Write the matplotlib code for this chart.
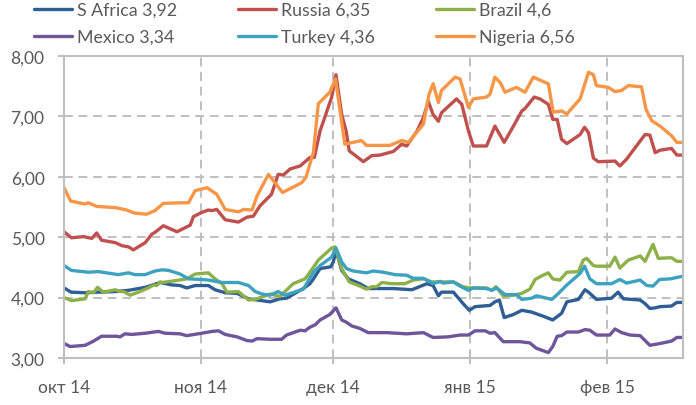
import matplotlib
matplotlib.use('Agg')
import matplotlib.pyplot as plt
import numpy as np
import pandas as pd

plt.rcParams['font.family'] = ['Lato', 'DejaVu Sans']

# ---- data (days since 2014-10-01, values) ----
start_date = '2014-10-01'

safrica_days = [0, 1.6, 4.8, 7.8, 11.6, 14.6, 18.4, 21.8, 24.4, 26.3,
                27.8, 29.7, 32.7, 34.2, 36.5, 39.2, 41.8, 46.7, 48.9, 50.4,
                54.2, 55.7, 56.5, 58.0, 60.4, 61.0, 61.6, 62.9, 64.4, 67.0,
                68.9, 74.6, 78.8, 82.2, 83.6, 84.8, 85.5, 88.2, 90.4, 91.8,
                93.1, 96.5, 97.6, 98.6, 99.7, 101.8, 103.7, 105.9, 108.6, 110.7,
                112.7, 113.9, 116.5, 118.0, 118.8, 120.6, 124.0, 125.5, 126.7, 130.5,
                131.6, 132.7, 133.9, 135.0, 137.6, 138.8, 139.9]
safrica = [4.16, 4.09, 4.08, 4.09, 4.10, 4.12, 4.17, 4.25, 4.21, 4.20,
           4.16, 4.20, 4.20, 4.13, 4.08, 4.07, 3.98, 3.93, 3.98, 3.99,
           4.15, 4.23, 4.31, 4.48, 4.51, 4.59, 4.78, 4.45, 4.31, 4.23,
           4.15, 4.15, 4.13, 4.23, 4.20, 4.03, 4.09, 4.09, 3.90, 3.79,
           3.85, 3.87, 3.93, 3.96, 3.67, 3.72, 3.79, 3.76, 3.69, 3.63,
           3.74, 3.93, 3.97, 4.13, 4.09, 3.97, 3.99, 4.09, 3.98, 3.96,
           3.90, 3.82, 3.83, 3.85, 3.86, 3.92, 3.92]

russia_days = [0, 1.7, 4.4, 6.3, 7.4, 8.5, 11.6, 13.1, 14.6, 15.7,
               18.4, 19.9, 20.6, 22.5, 25.6, 28.6, 29.3, 31.2, 32.7, 33.5,
               34.6, 36.5, 39.5, 41.4, 42.9, 44.4, 47.0, 48.5, 49.7, 51.2,
               53.5, 55.7, 56.7, 58.0, 60.6, 61.6, 62.9, 63.9, 64.6, 67.8,
               69.7, 71.6, 74.6, 76.5, 77.6, 79.9, 81.4, 82.5, 83.6, 84.8,
               85.5, 88.9, 90.1, 91.6, 92.7, 95.7, 97.6, 99.7, 101.8, 103.7,
               104.4, 106.5, 107.8, 109.7, 110.7, 111.7, 112.7, 113.9, 116.9, 117.9,
               118.8, 119.9, 121.0, 124.8, 125.9, 127.4, 131.6, 132.7, 133.9, 135.0,
               137.6, 138.8, 139.9]
russia = [5.09, 4.99, 5.01, 4.98, 5.07, 4.95, 4.91, 4.86, 4.84, 4.79,
          4.91, 5.05, 5.08, 5.19, 5.09, 5.20, 5.34, 5.41, 5.45, 5.44,
          5.46, 5.29, 5.25, 5.33, 5.35, 5.52, 5.71, 6.04, 6.03, 6.13,
          6.18, 6.32, 6.32, 6.76, 7.31, 7.69, 7.03, 6.76, 6.43, 6.25,
          6.35, 6.36, 6.42, 6.54, 6.51, 6.75, 6.98, 7.25, 7.03, 6.92,
          7.06, 7.29, 7.20, 6.76, 6.51, 6.51, 6.84, 6.57, 6.84, 7.09,
          7.13, 7.32, 7.29, 7.20, 6.95, 6.95, 6.62, 6.55, 6.70, 6.82,
          6.73, 6.31, 6.25, 6.26, 6.18, 6.29, 6.70, 6.69, 6.40, 6.44,
          6.47, 6.36, 6.36]

brazil_days = [0, 1.7, 4.8, 5.5, 6.7, 7.6, 8.9, 11.6, 12.7, 13.5,
               15.0, 17.2, 19.1, 20.3, 21.0, 21.8, 22.2, 25.2, 27.8, 29.7,
               31.2, 32.7, 34.2, 35.8, 36.9, 39.5, 41.8, 43.3, 45.2, 46.7,
               48.9, 51.9, 54.6, 55.7, 57.6, 60.6, 61.4, 62.9, 64.6, 66.7,
               68.5, 69.7, 70.8, 72.0, 74.2, 77.2, 79.1, 81.4, 83.3, 85.5,
               88.2, 90.4, 92.0, 95.7, 96.9, 97.8, 99.5, 101.8, 103.7, 105.5,
               106.7, 108.2, 109.7, 110.7, 112.3, 113.9, 116.5, 117.6, 118.4, 119.9,
               120.6, 123.6, 124.8, 125.9, 127.8, 130.5, 131.6, 133.4, 134.6, 137.6,
               138.8, 139.9]
brazil = [4.00, 3.95, 3.98, 4.10, 4.08, 4.17, 4.09, 4.13, 4.10, 4.10,
          4.04, 4.10, 4.16, 4.21, 4.20, 4.26, 4.25, 4.28, 4.31, 4.39,
          4.40, 4.41, 4.31, 4.23, 4.09, 4.10, 3.96, 3.97, 4.02, 4.06,
          4.02, 4.23, 4.31, 4.42, 4.62, 4.82, 4.84, 4.48, 4.26, 4.20,
          4.14, 4.18, 4.18, 4.25, 4.23, 4.23, 4.29, 4.31, 4.26, 4.26,
          4.26, 4.18, 4.16, 4.16, 4.12, 4.18, 4.03, 4.04, 4.07, 4.14,
          4.30, 4.36, 4.41, 4.31, 4.29, 4.42, 4.43, 4.62, 4.65, 4.53,
          4.52, 4.52, 4.67, 4.49, 4.62, 4.69, 4.60, 4.88, 4.65, 4.66,
          4.60, 4.60]

mexico_days = [0, 1.4, 4.8, 6.7, 8.5, 11.9, 12.7, 13.8, 15.3, 18.4,
               21.4, 22.9, 26.3, 27.8, 31.2, 33.5, 35.0, 36.5, 39.2, 41.4,
               42.6, 43.7, 46.7, 49.3, 50.4, 53.5, 54.6, 55.7, 56.9, 58.0,
               60.2, 61.6, 62.9, 64.0, 65.2, 67.0, 68.9, 73.1, 77.6, 81.4,
               83.6, 87.0, 89.7, 91.6, 93.1, 95.4, 96.5, 97.6, 99.5, 103.3,
               105.5, 107.0, 109.7, 110.7, 111.7, 112.7, 113.9, 116.5, 118.0, 119.1,
               120.6, 123.6, 124.8, 126.3, 128.2, 130.5, 132.7, 135.0, 137.6, 138.8,
               139.9]
mexico = [3.24, 3.19, 3.21, 3.28, 3.36, 3.36, 3.35, 3.40, 3.39, 3.41,
          3.44, 3.41, 3.40, 3.37, 3.41, 3.44, 3.45, 3.39, 3.35, 3.29,
          3.28, 3.32, 3.31, 3.31, 3.38, 3.46, 3.45, 3.51, 3.55, 3.63,
          3.72, 3.83, 3.63, 3.59, 3.53, 3.49, 3.42, 3.42, 3.40, 3.42,
          3.34, 3.35, 3.38, 3.38, 3.45, 3.45, 3.41, 3.42, 3.27, 3.27,
          3.25, 3.16, 3.09, 3.19, 3.36, 3.37, 3.43, 3.43, 3.47, 3.46,
          3.38, 3.38, 3.48, 3.42, 3.38, 3.37, 3.21, 3.24, 3.28, 3.34,
          3.34]

turkey_days = [0, 1.7, 5.5, 7.8, 12.3, 14.6, 16.1, 18.4, 20.6, 22.2,
               23.7, 26.3, 28.2, 31.2, 32.7, 35.8, 39.5, 41.8, 43.3, 44.8,
               46.7, 48.5, 50.1, 54.2, 56.5, 58.0, 60.6, 61.6, 62.9, 64.0,
               65.5, 68.5, 70.0, 72.3, 75.0, 77.6, 79.1, 81.4, 83.6, 85.2,
               85.9, 88.2, 89.7, 91.6, 92.7, 95.7, 96.9, 98.0, 99.9, 102.5,
               103.7, 105.9, 107.0, 110.5, 112.0, 113.9, 116.9, 117.9, 119.1, 120.6,
               124.0, 125.9, 127.4, 130.5, 132.0, 133.4, 134.9, 137.3, 139.9]
turkey = [4.53, 4.45, 4.42, 4.43, 4.38, 4.41, 4.38, 4.38, 4.44, 4.46,
          4.45, 4.39, 4.31, 4.30, 4.29, 4.25, 4.25, 4.20, 4.10, 4.06,
          4.04, 4.10, 4.04, 4.14, 4.42, 4.53, 4.67, 4.82, 4.59, 4.48,
          4.44, 4.41, 4.44, 4.42, 4.38, 4.37, 4.32, 4.32, 4.23, 4.27,
          4.24, 4.26, 4.19, 4.12, 4.16, 4.15, 4.12, 4.16, 4.05, 4.05,
          3.97, 3.99, 4.03, 3.97, 4.07, 4.21, 4.40, 4.52, 4.31, 4.23,
          4.23, 4.30, 4.24, 4.29, 4.20, 4.19, 4.30, 4.31, 4.35]

nigeria_days = [0, 1.5, 3.3, 4.8, 5.5, 7.4, 11.6, 14.2, 15.9, 18.7,
                20.6, 22.5, 26.7, 28.2, 29.7, 32.4, 34.6, 36.5, 39.5, 40.7,
                42.6, 43.7, 46.3, 49.5, 53.8, 54.8, 56.5, 57.6, 60.2, 61.5,
                63.6, 67.4, 68.5, 73.8, 76.5, 78.0, 81.4, 82.7, 83.6, 84.8,
                85.5, 88.6, 89.7, 91.6, 92.7, 95.7, 96.5, 97.6, 98.8, 99.9,
                102.5, 104.4, 106.3, 109.7, 110.8, 112.7, 113.9, 116.9, 118.8, 119.9,
                120.6, 123.3, 124.8, 126.3, 127.8, 130.8, 131.8, 133.1, 135.0, 137.6,
                138.8, 139.9]
nigeria = [5.82, 5.60, 5.57, 5.55, 5.57, 5.51, 5.49, 5.45, 5.40, 5.38,
           5.44, 5.56, 5.57, 5.57, 5.77, 5.82, 5.71, 5.46, 5.42, 5.46,
           5.45, 5.68, 6.04, 5.74, 5.90, 5.99, 6.41, 7.21, 7.40, 7.62,
           6.54, 6.60, 6.52, 6.52, 6.60, 6.57, 6.87, 7.37, 7.54, 7.23,
           7.43, 7.65, 7.62, 7.15, 7.29, 7.32, 7.37, 7.65, 7.56, 7.40,
           7.48, 7.40, 7.65, 7.54, 7.07, 7.09, 7.04, 7.29, 7.73, 7.69,
           7.51, 7.48, 7.41, 7.43, 7.51, 7.49, 7.12, 6.93, 6.84, 6.68,
           6.57, 6.57]

legend_labels = ['S Africa 3,92', 'Russia 6,35', 'Brazil 4,6',
                 'Mexico 3,34', 'Turkey 4,36', 'Nigeria 6,56']
colors = ['#2F5E95', '#C0504D', '#8DB048', '#6F559A', '#3DA2BF', '#F79646']

tick_dates = ['2014-10-01', '2014-11-01', '2014-12-01', '2015-01-01', '2015-02-01']
tick_labels = ['окт 14', 'ноя 14', 'дек 14', 'янв 15', 'фев 15']
y_ticks = [3, 4, 5, 6, 7, 8]

series_days = [safrica_days, russia_days, brazil_days, mexico_days, turkey_days, nigeria_days]
series_vals = [safrica, russia, brazil, mexico, turkey, nigeria]

# ---- figure ----
W, H = 696, 406
fig = plt.figure(figsize=(W / 100, H / 100), dpi=100)
ax = fig.add_axes([64 / W, 1 - 359 / H, (683 - 64) / W, (359 - 57) / H])

t0 = pd.Timestamp(start_date)
handles = []
for d, v, c, lab in zip(series_days, series_vals, colors, legend_labels):
    x = t0 + pd.to_timedelta(np.asarray(d, dtype=float), unit='D')
    h, = ax.plot(x, v, color=c, lw=2.4, solid_joinstyle='round',
                 solid_capstyle='round', label=lab)
    handles.append(h)

grid_c = '#BFBFBF'
ax.set_ylim(3, 8)
ax.set_xlim(t0, t0 + pd.Timedelta(days=140.2))
ax.set_yticks(y_ticks)
ax.set_yticklabels([f'{v:.2f}'.replace('.', ',') for v in y_ticks])
ax.set_xticks(pd.to_datetime(tick_dates))
ax.set_xticklabels(tick_labels)

ax.grid(True, color=grid_c, lw=1.4, linestyle=(0, (4.5, 3.0)))
ax.set_axisbelow(True)
for s in ax.spines.values():
    s.set_color(grid_c)
    s.set_linewidth(1.5)

ax.tick_params(axis='both', colors=grid_c, labelcolor='#595959',
               labelsize=12.5, length=4, width=1.5)
ax.tick_params(axis='y', pad=10)
ax.tick_params(axis='x', pad=11)

order = [0, 3, 1, 4, 2, 5]
fig.legend([handles[i] for i in order], [legend_labels[i] for i in order],
           loc='upper left', bbox_to_anchor=(34 / W, 1 - 3 / H), ncol=3,
           frameon=False, fontsize=12.8, handlelength=2.15, handletextpad=0.25,
           columnspacing=3.45, labelspacing=0.62, borderaxespad=0, borderpad=0,
           labelcolor='#595959')

fig.savefig('out.png', dpi=100)
